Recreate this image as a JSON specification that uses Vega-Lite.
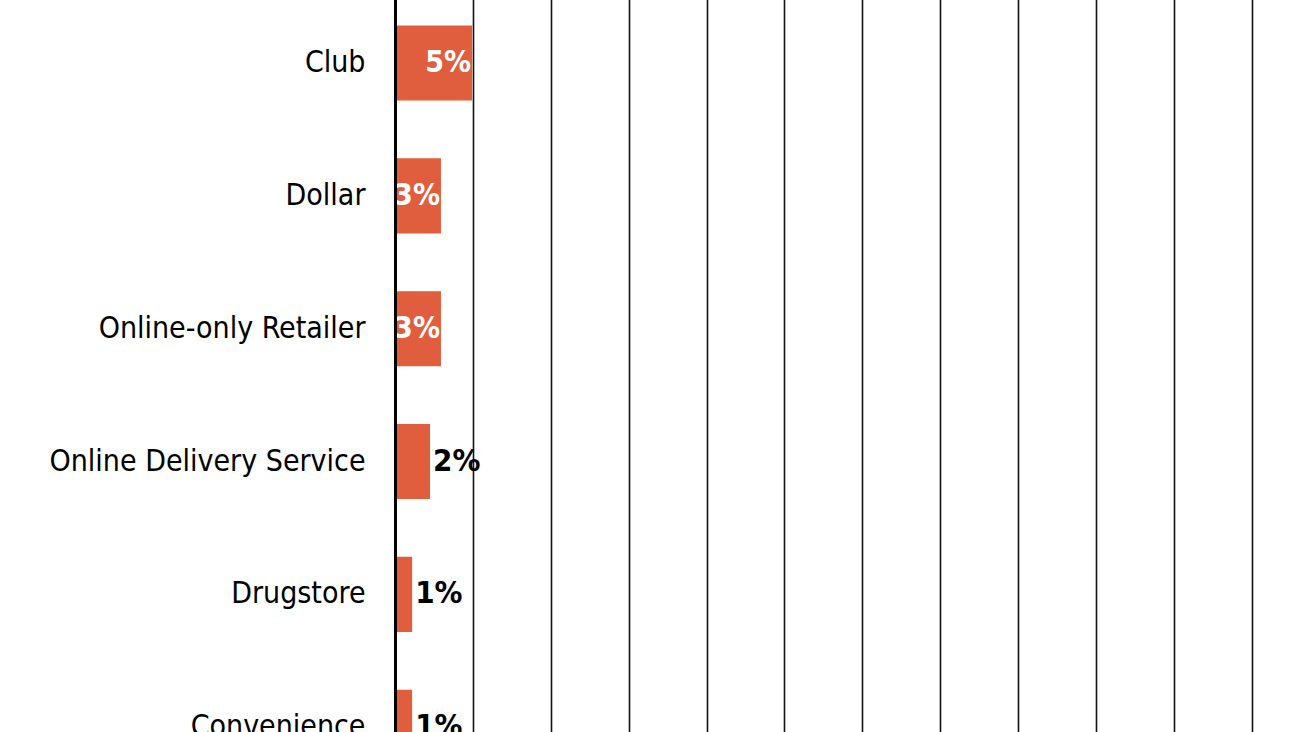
{
  "$schema": "https://vega.github.io/schema/vega-lite/v6.json",
  "autosize": "none",
  "width": 905,
  "height": 732,
  "padding": {"left": 395, "top": 0, "right": 0, "bottom": 0},
  "background": "white",
  "config": {"view": {"stroke": null}, "font": "DejaVu Sans Condensed"},
  "data": {
    "values": [
      {"channel": "Club", "share": 4.95, "label": "5%"},
      {"channel": "Dollar", "share": 2.95, "label": "3%"},
      {"channel": "Online-only Retailer", "share": 2.95, "label": "3%"},
      {"channel": "Online Delivery Service", "share": 2.25, "label": "2%"},
      {"channel": "Drugstore", "share": 1.1, "label": "1%"},
      {"channel": "Convenience", "share": 1.1, "label": "1%"}
    ]
  },
  "encoding": {
    "y": {
      "field": "channel",
      "type": "nominal",
      "sort": null,
      "title": null,
      "scale": {"range": [-3.4, 793.6], "paddingInner": 0.435, "paddingOuter": 0.2175},
      "axis": {
        "domain": true,
        "domainColor": "black",
        "domainWidth": 3,
        "ticks": false,
        "labelPadding": 30,
        "labelFontSize": 30,
        "labelFont": "DejaVu Sans Condensed",
        "labelColor": "black",
        "labelLimit": 400,
        "zindex": 2
      }
    },
    "x": {
      "field": "share",
      "type": "quantitative",
      "title": null,
      "scale": {"domain": [0, 58.1], "nice": false},
      "axis": {
        "values": [0, 5, 10, 15, 20, 25, 30, 35, 40, 45, 50, 55],
        "grid": true,
        "gridColor": "#111",
        "gridWidth": 1.6,
        "gridOpacity": 1,
        "labels": false,
        "ticks": false,
        "domain": false,
        "zindex": 0
      }
    }
  },
  "layer": [
    {"mark": {"type": "bar", "color": "#E05D3E", "clip": true}},
    {
      "transform": [{"filter": "datum.share >= 2.5"}],
      "mark": {"type": "text", "align": "right", "dx": -1, "baseline": "middle", "fontSize": 30, "fontWeight": "bold", "color": "white", "font": "DejaVu Sans Condensed"},
      "encoding": {"text": {"field": "label"}}
    },
    {
      "transform": [{"filter": "datum.share < 2.5"}],
      "mark": {"type": "text", "align": "left", "dx": 3, "baseline": "middle", "fontSize": 31, "fontWeight": "bold", "color": "black", "font": "DejaVu Sans Condensed"},
      "encoding": {"text": {"field": "label"}}
    }
  ]
}
